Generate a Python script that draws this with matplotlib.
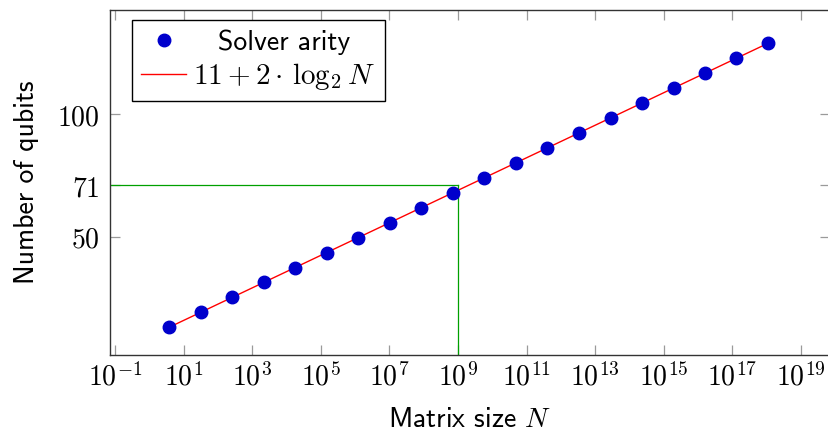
import matplotlib
matplotlib.use("Agg")
import matplotlib.pyplot as plt

plt.rcParams['mathtext.fontset'] = 'cm'

# ---- data ----
matrix_size = [3.80, 31.6, 263, 2.19e3, 1.82e4, 1.51e5, 1.26e6, 1.02e7, 8.51e7,
               7.08e8, 5.89e9, 4.90e10, 4.07e11, 3.39e12, 2.82e13, 2.34e14,
               1.95e15, 1.58e16, 1.32e17, 1.10e18]
solver_arity = [13.0, 19.1, 25.2, 31.3, 37.4, 43.5, 49.6, 55.7, 61.9, 68.0,
                74.1, 80.2, 86.3, 92.4, 98.5, 104.6, 110.7, 116.8, 122.9, 129.0]
fit_N = [3.80, 1.10e18]
fit_q = [13.0, 129.0]
ref_N = 1e9
ref_q = 71
x_tick_exps = [-1, 1, 3, 5, 7, 9, 11, 13, 15, 17, 19]
y_ticks = [50, 71, 100]

W, H = 829, 434
fig = plt.figure(figsize=(W / 100, H / 100), dpi=100)
ax = fig.add_axes([110 / W, (H - 355) / H, 720 / W, 345.5 / H])
ax.set_xscale('log')
ax.set_xlim(10 ** -1.146, 10 ** 19.85)
ax.set_ylim(1.67, 142.8)

# reference lines
ax.plot([ax.get_xlim()[0], ref_N], [ref_q, ref_q], color='#00a000', lw=0.9, zorder=2)
ax.plot([ref_N, ref_N], [ax.get_ylim()[0], ref_q], color='#00a000', lw=0.9, zorder=2)

ax.plot(fit_N, fit_q, color='red', lw=1.0, zorder=3, label=r'$11 + 2 \cdot\, \log_2 N$')
ax.plot(matrix_size, solver_arity, linestyle='none', marker='o', ms=9.0,
        color='#0000cc', zorder=4, label='Solver arity')

ax.set_xticks([10.0 ** e for e in x_tick_exps],
              labels=[r'$10^{%d}$' % e for e in x_tick_exps])
ax.xaxis.set_minor_locator(matplotlib.ticker.NullLocator())
ax.set_yticks(y_ticks, labels=[r'$%d$' % v for v in y_ticks])

ax.tick_params(axis='both', which='both', direction='in', length=7.5, width=0.9,
               color='#9a9a9a', top=True, right=True, labelsize=20)
ax.tick_params(axis='x', pad=6)
ax.tick_params(axis='y', pad=7.5)
for s in ax.spines.values():
    s.set_color('#333333')
    s.set_linewidth(1.0)

ax.set_xlabel(r'Matrix size $N$', fontfamily='cmss10', fontsize=20, labelpad=11)
ax.set_ylabel('Number of qubits', fontfamily='cmss10', fontsize=20, labelpad=13)

handles, labels = ax.get_legend_handles_labels()
order = [1, 0]
leg = ax.legend([handles[i] for i in order], [labels[i] for i in order],
                loc='upper left', bbox_to_anchor=(0.0301, 0.9696), borderaxespad=0,
                fancybox=False, edgecolor='black', framealpha=1,
                prop={'family': 'cmss10', 'size': 20}, handlelength=1.63,
                handletextpad=0.25, borderpad=0.34, labelspacing=0.2, numpoints=1)
leg.get_frame().set_linewidth(1.0)
leg.get_texts()[1].set_fontsize(21)

# center entry texts within the legend column like the reference
fig.canvas.draw()
r = fig.canvas.get_renderer()
ws = [t.get_window_extent(r).width for t in leg.get_texts()]
wmax = max(ws)
for t, w in zip(leg.get_texts(), ws):
    t.set_x(t.get_position()[0] + (wmax - w) / 2)

fig.savefig('out.png', dpi=100)
